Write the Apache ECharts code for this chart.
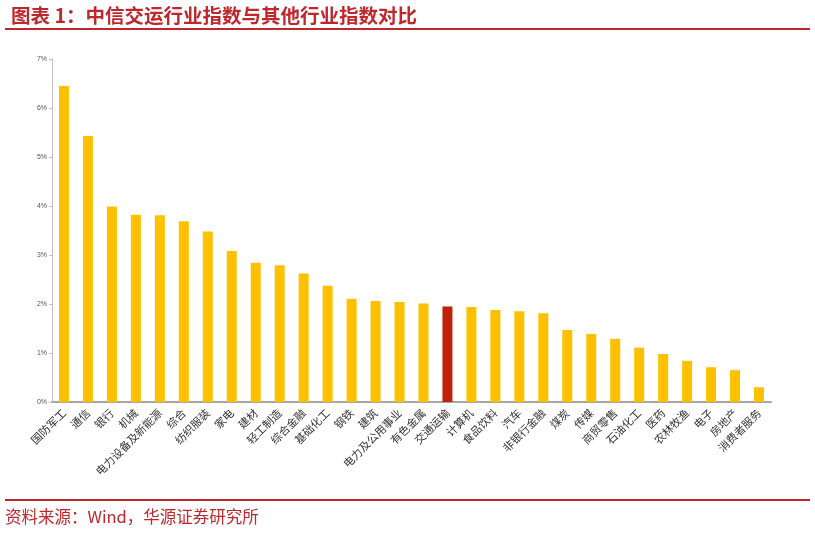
<!DOCTYPE html>
<html>
<head>
<meta charset="utf-8">
<script src="https://cdn.jsdelivr.net/npm/echarts@6/dist/echarts.min.js"></script>
<style>
  html, body { margin: 0; padding: 0; background: #fff; }
  #chart { width: 815px; height: 533px; }
</style>
</head>
<body>
<div id="chart"></div>
<script>
// 行业名称
var industries = ["国防军工", "通信", "银行", "机械", "电力设备及新能源", "综合", "纺织服装", "家电", "建材", "轻工制造",
  "综合金融", "基础化工", "钢铁", "建筑", "电力及公用事业", "有色金属", "交通运输", "计算机", "食品饮料", "汽车",
  "非银行金融", "煤炭", "传媒", "商贸零售", "石油化工", "医药", "农林牧渔", "电子", "房地产", "消费者服务"];
// 指数涨幅（%）
var changes = [6.45, 5.43, 3.99, 3.82, 3.81, 3.69, 3.48, 3.08, 2.84, 2.79,
  2.62, 2.37, 2.10, 2.06, 2.04, 2.01, 1.95, 1.94, 1.88, 1.85,
  1.81, 1.47, 1.39, 1.29, 1.11, 0.98, 0.84, 0.71, 0.65, 0.30];
var highlight = "交通运输";

var chart = echarts.init(document.getElementById('chart'));

chart.setOption({
  animation: false,
  title: {
    text: "图表 1：中信交运行业指数与其他行业指数对比",
    left: 6,
    top: 1,
    textStyle: {
      color: "#C0272D",
      fontSize: 19.5,
      fontWeight: "bold",
      fontFamily: "Noto Sans CJK SC"
    }
  },
  graphic: [
    { type: "rect", shape: { x: 5, y: 28, width: 805, height: 2 }, style: { fill: "#C0272D" } },
    { type: "rect", shape: { x: 5, y: 499, width: 805, height: 2 }, style: { fill: "#C0272D" } },
    {
      type: "text", left: 5, top: 508,
      style: { text: "资料来源：Wind，华源证券研究所", fill: "#C0272D", fontSize: 16.5, fontFamily: "Noto Sans CJK SC" }
    }
  ],
  grid: { left: 52, right: 44, top: 59, bottom: 131 },
  xAxis: {
    type: "category",
    data: industries,
    axisLine: { lineStyle: { color: "#A6A6A6", width: 2 } },
    axisTick: { show: false },
    axisLabel: {
      interval: 0,
      rotate: 45,
      fontSize: 11,
      color: "#333",
      margin: 9,
      fontFamily: "Noto Sans CJK SC"
    }
  },
  yAxis: {
    type: "value",
    min: 0,
    max: 7,
    interval: 1,
    axisLine: { show: true, lineStyle: { color: "#BFBFBF", width: 1 } },
    axisTick: { show: true, length: 3, lineStyle: { color: "#BFBFBF" } },
    splitLine: { show: false },
    axisLabel: {
      formatter: "{value}%",
      fontSize: 7,
      color: "#555",
      margin: 5
    }
  },
  series: [{
    type: "bar",
    barWidth: 10,
    data: changes.map(function (v, i) {
      return {
        value: v,
        itemStyle: { color: industries[i] === highlight ? "#C0210A" : "#FFC000" }
      };
    })
  }]
});
</script>
</body>
</html>
